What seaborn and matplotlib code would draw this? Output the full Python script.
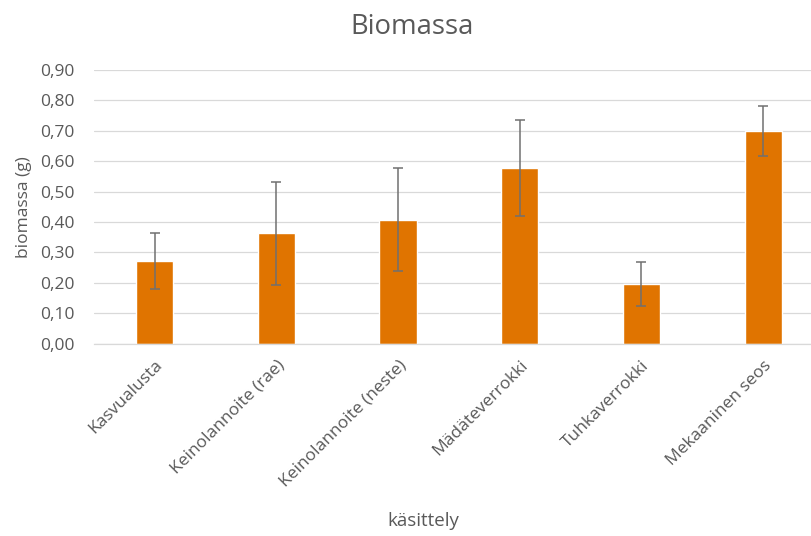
import matplotlib
matplotlib.use("Agg")
import matplotlib.pyplot as plt
import seaborn as sns
import pandas as pd
from matplotlib.ticker import FuncFormatter, MultipleLocator

categories = ["Kasvualusta", "Keinolannoite (rae)", "Keinolannoite (neste)",
              "Mädäteverrokki", "Tuhkaverrokki", "Mekaaninen seos"]
biomass = [0.272, 0.362, 0.407, 0.578, 0.195, 0.699]
errors = [0.092, 0.168, 0.170, 0.157, 0.073, 0.083]

df = pd.DataFrame({"kasittely": categories, "biomassa": biomass})

sns.set_theme(style="white")
plt.rcParams["font.family"] = ["Open Sans", "DejaVu Sans"]
text_col = "#595959"

fig = plt.figure(figsize=(8.12, 5.36), dpi=100)
W, H = 812, 536
left, right, top, bottom = 93.7, 824.0, 70.0, 343.5
ax = fig.add_axes([left / W, 1 - bottom / H, (right - left) / W, (bottom - top) / H])

sns.barplot(data=df, x="kasittely", y="biomassa", color="#E07400",
            width=0.305, errorbar=None, ax=ax, saturation=1)
ax.errorbar(range(len(categories)), biomass, yerr=errors, fmt="none",
            ecolor="#707070", elinewidth=1.1, capsize=3.6, capthick=1.1, zorder=5)

ax.set_xlim(-0.5, 5.5)
ax.set_ylim(0, 0.9)
ax.yaxis.set_major_locator(MultipleLocator(0.1))
ax.yaxis.set_major_formatter(FuncFormatter(lambda v, p: f"{v:.2f}".replace(".", ",")))
ax.grid(axis="y", color="#d9d9d9", linewidth=0.9)
ax.set_axisbelow(True)
for s in ["top", "right", "left"]:
    ax.spines[s].set_visible(False)
ax.spines["bottom"].set_color("#d9d9d9")
ax.spines["bottom"].set_linewidth(0.9)
ax.tick_params(axis="both", length=0, colors=text_col, labelsize=12.5)
ax.tick_params(axis="y", pad=14)
ax.tick_params(axis="x", pad=10)
for lbl in ax.get_xticklabels():
    lbl.set_rotation(45)
    lbl.set_ha("right")
    lbl.set_rotation_mode("anchor")

ax.set_ylabel("biomassa (g)", color=text_col, fontsize=12.5)
ax.yaxis.set_label_coords((32 - left) / (right - left), 0.5)
ax.set_xlabel("käsittely", color=text_col, fontsize=13.5)
ax.xaxis.set_label_coords((423 - left) / (right - left), (bottom - 512) / (bottom - top))

fig.text(412 / W, 1 - 27 / H, "Biomassa", ha="center", va="center",
         fontsize=19.8, color=text_col)

fig.savefig("out.png", dpi=100, facecolor="white")
